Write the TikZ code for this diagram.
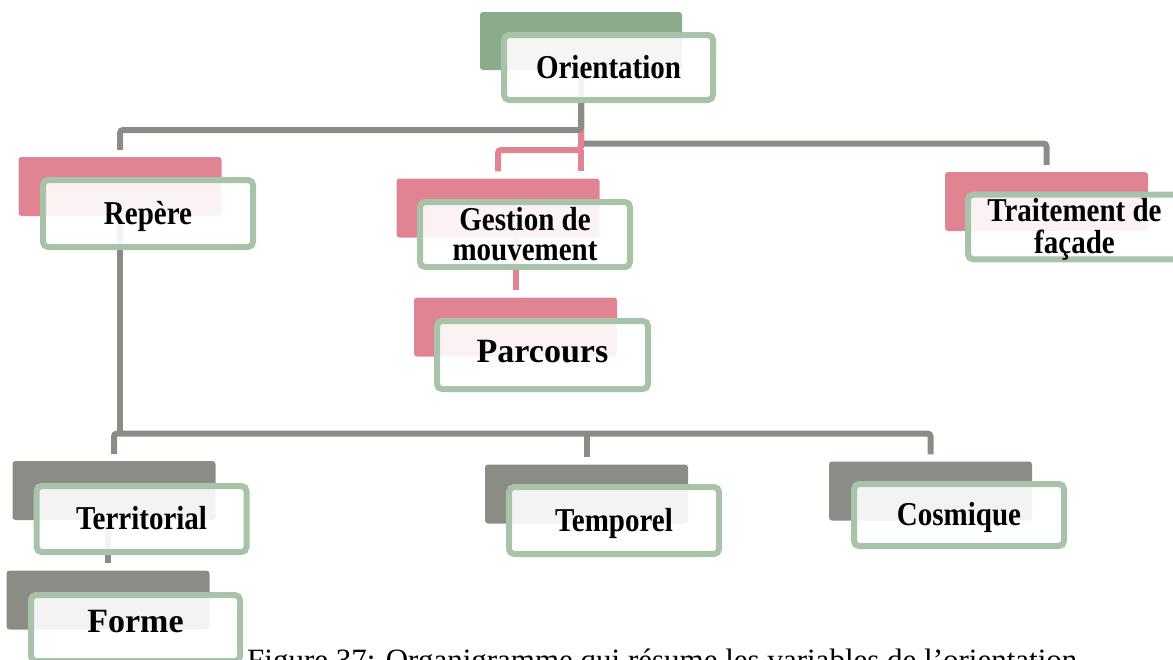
\documentclass[tikz,border=0pt]{standalone}
\usepackage{fontspec}
\usepackage{graphicx}
\setmainfont{Liberation Serif}
\definecolor{leafgreen}{HTML}{8BAC8B}
\definecolor{rosebar}{HTML}{E08494}
\definecolor{stonegray}{HTML}{8C8C87}
\definecolor{framegreen}{HTML}{A9C3A9}
% move a label up or down without changing the box it occupies
\newcommand\lifted[2]{\raisebox{#1}[\height][\depth]{#2}}
% label text, slightly narrowed-looking by a vertical stretch
\newcommand\tallstack[1]{\lifted{-3.5pt}{\scalebox{1}[1.15]{\begin{tabular}{@{}c@{}}#1\end{tabular}}}}
\tikzset{
  backbox/.style={rectangle, rounded corners=3pt, minimum width=203pt,
    minimum height=59pt, inner sep=0pt, draw=none},
  topbox/.style={rectangle, rounded corners=5pt, draw=framegreen, line width=6pt,
    fill=white, fill opacity=0.9, text opacity=1, minimum width=210pt,
    minimum height=66pt, inner sep=0pt, align=center,
    font=\fontsize{29}{26}\selectfont\bfseries},
  bigtext/.style={font=\fontsize{34}{34}\selectfont\bfseries},
  gline/.style={draw=stonegray, line width=6pt, rounded corners=3pt},
  pline/.style={draw=rosebar, line width=6pt, rounded corners=3pt},
}
\begin{document}
\begin{tikzpicture}[x=1pt,y=-1pt]
\useasboundingbox (0,0) rectangle (1173,659);
\clip (0,0) rectangle (1173,659);

% coloured back plates
\node[backbox, fill=leafgreen, minimum width=202pt, minimum height=58pt] (oback) at (581,41) {};
\node[backbox, fill=rosebar] (rback) at (120,186.5) {};
\node[backbox, fill=rosebar] (gback) at (498,208) {};
\node[backbox, fill=rosebar] (tback) at (1046.5,201.5) {};
\node[backbox, fill=rosebar] (pback) at (515.5,327) {};
\node[backbox, fill=stonegray] (terback) at (114,490.5) {};
\node[backbox, fill=stonegray] (foback) at (108,600) {};
\node[backbox, fill=stonegray] (temback) at (586.5,494) {};
\node[backbox, fill=stonegray] (cosback) at (930.5,491) {};

% junction levels and connector end points
\coordinate (hA) at (0,130);
\coordinate (hB) at (0,143.5);
\coordinate (hC) at (0,150);
\coordinate (hD) at (0,433.5);
\coordinate (rtop) at ([yshift=7pt]rback.north);
\coordinate (gtop) at ([yshift=7pt]gback.north);
\coordinate (ttop) at ([yshift=7pt]tback.north);
\coordinate (ptop) at ([yshift=7pt]pback.north);
\coordinate (tertop) at ([yshift=7pt]terback.north);
\coordinate (fotop) at ([yshift=7pt]foback.north);
\coordinate (temtop) at ([yshift=7pt]temback.north);
\coordinate (costop) at ([yshift=7pt]cosback.north);

% connectors
\draw[gline] (oback.south) -- (oback.south |- hB) -- (ttop |- hB) -- (ttop);
\draw[pline] (oback.south) -- (oback.south |- hC) -- (gtop |- hC) -- (gtop);
\draw[pline] (oback.south |- hC) -- (gtop -| oback.south);
\draw[gline] (oback.south) -- (oback.south |- hA) -- (rtop |- hA) -- (rtop);
\draw[pline] (ptop |- gback.south) -- (ptop);
\draw[gline] (rback.south) -- (rback.south |- hD);
\draw[gline] (tertop) -- (tertop |- hD) -- (costop |- hD) -- (costop);
\draw[gline] (temtop |- hD) -- (temtop);
\draw[gline] (fotop |- terback.south) -- (fotop);

% framed labels
\node[topbox, minimum width=209pt, minimum height=65pt] (orient) at (608.5,67.5) {\tallstack{Orientation}};
\node[topbox, minimum height=67pt] (repere) at (148,213.5) {\tallstack{Rep\`ere}};
\node[topbox, minimum height=65pt] (gestion) at (525,234.5) {\tallstack{Gestion de\\mouvement}};
\node[topbox, minimum width=213pt, minimum height=64pt] (facade) at (1074.5,227) {\tallstack{Traitement de\\fa\c{c}ade}};
\node[topbox, bigtext, minimum width=211pt, minimum height=68pt] (parcours) at (542.5,355) {\lifted{3pt}{Parcours}};
\node[topbox] (territ) at (141.5,519) {\tallstack{Territorial}};
\node[topbox, bigtext, minimum width=209pt] (forme) at (135.5,628) {\lifted{6pt}{Forme}};
\node[topbox, minimum height=67pt] (temporel) at (614,520.5) {\tallstack{Temporel}};
\node[topbox, minimum height=62pt] (cosmique) at (959,515) {\tallstack{Cosmique}};

% figure caption, cut by the page edge
\node[anchor=base west, inner sep=0pt, font=\fontsize{31}{31}\selectfont] (caption) at (247,670)
  {Figure 37: Organigramme qui r\'esume les variables de l’orientation};
\end{tikzpicture}
\end{document}
